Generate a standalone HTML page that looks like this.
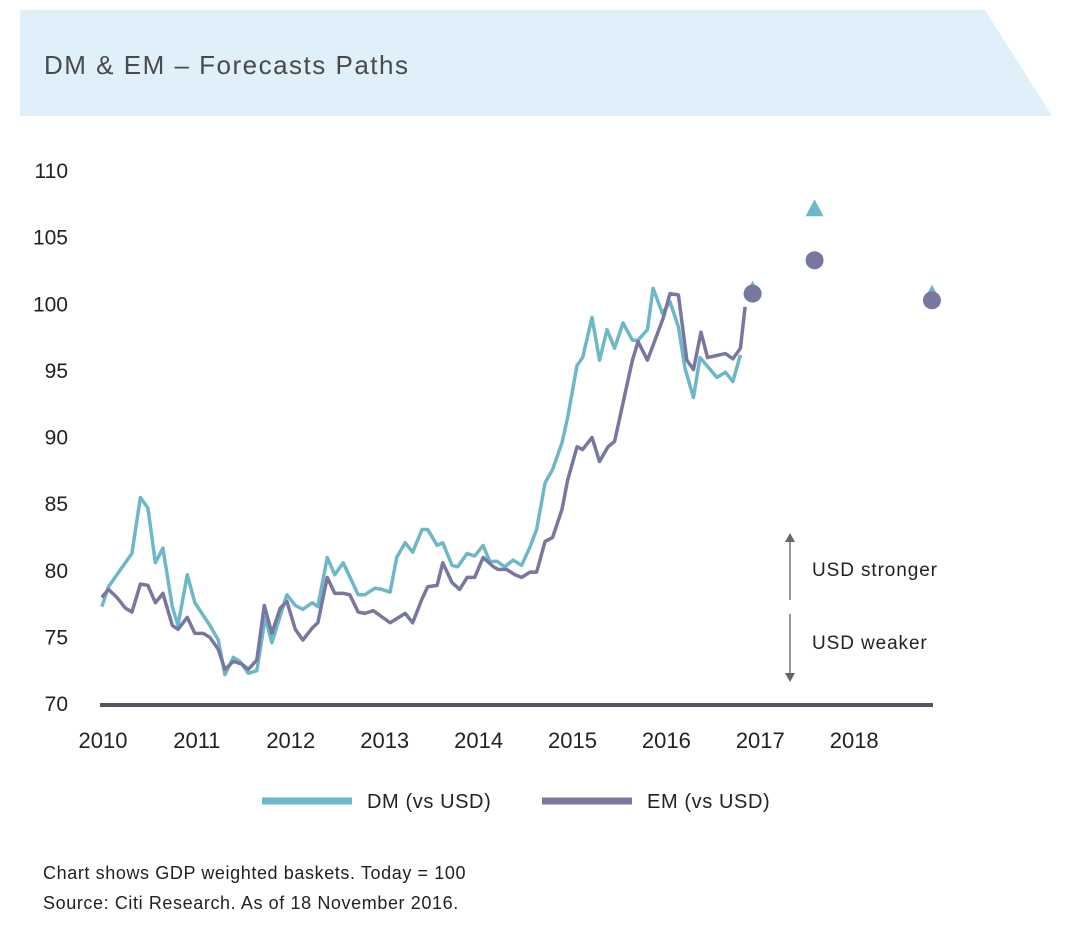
<!DOCTYPE html>
<html><head><meta charset="utf-8"><style>
body{margin:0;background:#fff;width:1066px;height:945px;overflow:hidden;font-family:"Liberation Sans",sans-serif;}
svg text{font-family:"Liberation Sans",sans-serif;}
</style></head><body>
<svg id="chart" width="1066" height="945" viewBox="0 0 1066 945">
<polygon points="20,10 985,10 1052,116 20,116" fill="#dff0fa"/>
<text x="44" y="74" font-size="26" fill="#4a4a4a" letter-spacing="1.5">DM &amp; EM – Forecasts Paths</text>
<g id="yaxis"></g>
<g id="xaxis"></g>
<g id="series"></g>
<g>
<line x1="790" y1="540" x2="790" y2="600" stroke="#777" stroke-width="1.5"/>
<polygon points="785,542 795,542 790,533" fill="#666"/>
<line x1="790" y1="614" x2="790" y2="675" stroke="#777" stroke-width="1.5"/>
<polygon points="785,673 795,673 790,682" fill="#666"/>
<text x="812" y="576" font-size="19" fill="#222" letter-spacing="0.9">USD stronger</text>
<text x="812" y="649" font-size="19" fill="#222" letter-spacing="0.9">USD weaker</text>
</g>
<g>
<g><line x1="262" y1="801" x2="352" y2="801" stroke="#6db8c8" stroke-width="7"/><text x="367" y="808" font-size="20" letter-spacing="0.6" fill="#222">DM (vs USD)</text></g>
<g><line x1="542" y1="801" x2="632" y2="801" stroke="#77779f" stroke-width="7"/><text x="647" y="808" font-size="20" letter-spacing="0.6" fill="#222">EM (vs USD)</text></g>
</g>
<text x="43" y="879" font-size="18" letter-spacing="0.6" fill="#222">Chart shows GDP weighted baskets. Today = 100</text>
<text x="43" y="909" font-size="18" letter-spacing="0.6" fill="#222">Source: Citi Research. As of 18 November 2016.</text>
</svg>
<script>
const yTicks=[70,75,80,85,90,95,100,105,110];
const xTicks=[2010,2011,2012,2013,2014,2015,2016,2017,2018];
const dmDates=[2010.02,2010.09,2010.34,2010.43,2010.51,2010.59,2010.67,2010.77,2010.83,2010.93,2011.01,2011.17,2011.26,2011.33,2011.42,2011.49,2011.58,2011.67,2011.76,2011.83,2011.99,2012.08,2012.16,2012.26,2012.32,2012.42,2012.50,2012.59,2012.75,2012.82,2012.93,2013.00,2013.09,2013.16,2013.25,2013.33,2013.43,2013.49,2013.59,2013.65,2013.75,2013.81,2013.91,2013.99,2014.08,2014.15,2014.23,2014.31,2014.40,2014.49,2014.58,2014.65,2014.74,2014.82,2014.92,2014.98,2015.08,2015.14,2015.24,2015.32,2015.40,2015.48,2015.57,2015.67,2015.73,2015.83,2015.89,2015.99,2016.07,2016.16,2016.23,2016.32,2016.39,2016.57,2016.66,2016.74,2016.82];
const dmValues=[77.3,78.8,81.3,85.5,84.7,80.6,81.7,77.3,75.9,79.7,77.6,75.9,74.8,72.2,73.5,73.2,72.3,72.5,76.5,74.6,78.2,77.4,77.1,77.6,77.3,81.0,79.7,80.6,78.2,78.2,78.7,78.6,78.4,81.0,82.1,81.4,83.1,83.1,81.9,82.1,80.4,80.3,81.3,81.1,81.9,80.7,80.7,80.3,80.8,80.4,81.8,83.1,86.6,87.6,89.6,91.5,95.4,96.0,99.0,95.8,98.1,96.7,98.6,97.3,97.3,98.1,101.2,99.3,100.2,98.3,95.2,93.0,96.0,94.5,94.9,94.2,96.2];
const emDates=[2010.02,2010.09,2010.18,2010.27,2010.34,2010.43,2010.51,2010.59,2010.67,2010.77,2010.83,2010.93,2011.01,2011.10,2011.17,2011.26,2011.33,2011.42,2011.51,2011.58,2011.67,2011.75,2011.83,2011.92,2011.99,2012.08,2012.16,2012.26,2012.32,2012.42,2012.50,2012.59,2012.66,2012.75,2012.82,2012.91,2013.09,2013.25,2013.33,2013.43,2013.49,2013.59,2013.65,2013.75,2013.83,2013.91,2013.99,2014.08,2014.19,2014.24,2014.33,2014.42,2014.49,2014.58,2014.65,2014.74,2014.82,2014.92,2014.98,2015.08,2015.14,2015.24,2015.32,2015.41,2015.48,2015.57,2015.67,2015.73,2015.83,2015.91,2016.00,2016.07,2016.16,2016.25,2016.32,2016.40,2016.47,2016.66,2016.74,2016.82,2016.87];
const emValues=[78.0,78.6,78.0,77.2,76.9,79.0,78.9,77.6,78.3,75.9,75.6,76.5,75.3,75.3,75.0,74.1,72.6,73.2,73.0,72.6,73.3,77.4,75.3,77.2,77.7,75.6,74.8,75.7,76.1,79.5,78.3,78.3,78.2,76.9,76.8,77.0,76.1,76.8,76.1,77.9,78.8,78.9,80.6,79.1,78.6,79.5,79.5,81.0,80.3,80.1,80.1,79.7,79.5,79.9,79.9,82.2,82.5,84.6,86.8,89.3,89.1,90.0,88.2,89.3,89.7,92.6,95.8,97.2,95.8,97.3,99.0,100.8,100.7,95.8,95.1,97.9,96.0,96.3,95.9,96.7,99.8];
const forecastDates=[2016.95,2017.61,2018.86];
const dmForecast=[101.1,107.2,100.8];
const emForecast=[100.8,103.3,100.3];

const NS='http://www.w3.org/2000/svg';
const x=d=>100+(d-2010)*93.9;
const y=v=>171+(110-v)*13.325;
function mk(tag,attrs,parent){const e=document.createElementNS(NS,tag);for(const k in attrs)e.setAttribute(k,attrs[k]);parent.appendChild(e);return e;}
const ya=document.getElementById('yaxis'),xa=document.getElementById('xaxis'),sg=document.getElementById('series');
yTicks.forEach(t=>{const e=mk('text',{x:68,y:y(t)+7,'font-size':21,fill:'#222','text-anchor':'end'},ya);e.textContent=t;

});
const ax=mk('line',{x1:100,x2:933,y1:705,y2:705,stroke:'#55555f','stroke-width':4},xa);


xTicks.forEach(t=>{const e=mk('text',{x:x(t)+3,y:748,'font-size':22,fill:'#222','text-anchor':'middle'},xa);e.textContent=t;

});
function line(ds,vs,col,name){const p=mk('polyline',{points:ds.map((d,i)=>x(d)+','+y(vs[i])).join(' '),fill:'none',stroke:col,'stroke-width':3.5,'stroke-linejoin':'round'},sg);

}
line(dmDates,dmValues,'#6db8c8','dm-line');
line(emDates,emValues,'#77779f','em-line');
forecastDates.forEach((d,i)=>{const cx=x(d),cy=y(dmForecast[i]);
const t=mk('polygon',{points:`${cx-9},${cy+8} ${cx+9},${cy+8} ${cx},${cy-9}`,fill:'#6db8c8'},sg);

});
forecastDates.forEach((d,i)=>{const c=mk('circle',{cx:x(d),cy:y(emForecast[i]),r:9,fill:'#77779f'},sg);

});
</script>
</body></html>
